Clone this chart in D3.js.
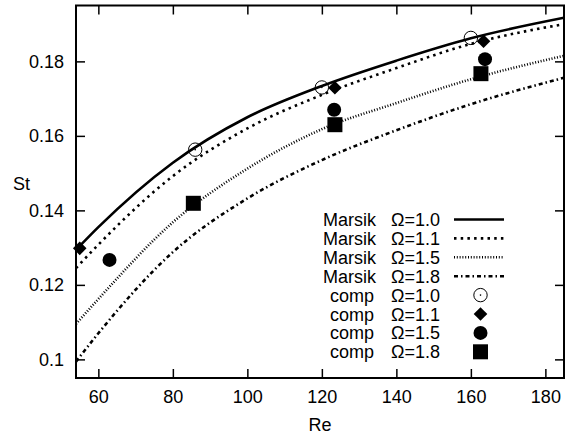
<!DOCTYPE html>
<html>
<head>
<meta charset="utf-8">
<script src="https://cdn.jsdelivr.net/npm/d3@7"></script>
<style>
  body { margin: 0; background: #fff; }
  svg { display: block; font-family: "Liberation Sans", Arial, sans-serif; }
  .axis path { display: none; }
  .axis line { stroke: #000; stroke-width: 1.5; }
  .axis text { font-size: 18px; fill: #000; }
</style>
</head>
<body>
<div id="chart"></div>
<script>
// Marsik curves at a few Re values
const reMarsik = [54, 60, 80, 100, 120, 140, 160, 185];
const stMarsik10 = [0.1294, 0.1355, 0.1528, 0.1650, 0.1734, 0.1802, 0.1862, 0.1917];
const stMarsik11 = [0.1245, 0.1308, 0.1492, 0.1620, 0.1710, 0.1782, 0.1847, 0.1900];
const stMarsik15 = [0.1095, 0.1162, 0.1368, 0.1512, 0.1618, 0.1688, 0.1752, 0.1815];
const stMarsik18 = [0.0994, 0.1070, 0.1288, 0.1432, 0.1535, 0.1615, 0.1685, 0.1756];

// computed points
const compRe10 = [86, 120, 160];
const compSt10 = [0.1563, 0.1730, 0.1863];
const compRe11 = [55, 123.5, 163.4];
const compSt11 = [0.1298, 0.1729, 0.1854];
const compRe15 = [63, 123.3, 163.8];
const compSt15 = [0.1267, 0.1670, 0.1806];
const compRe18 = [85.5, 123.5, 162.7];
const compSt18 = [0.1419, 0.1630, 0.1767];

const xTicks = [60, 80, 100, 120, 140, 160, 180];
const yTicks = [0.1, 0.12, 0.14, 0.16, 0.18];
const yTickLabels = ["0.1", "0.12", "0.14", "0.16", "0.18"];

const lineLabels = ["Marsik", "Marsik", "Marsik", "Marsik"];
const pointLabels = ["comp", "comp", "comp", "comp"];
const omegaLabels = ["\u03A9=1.0", "\u03A9=1.1", "\u03A9=1.5", "\u03A9=1.8"];

var width = 572, height = 436;
var margin = { top: 5.5, right: 8, bottom: 58, left: 76 };

var svg = d3.select('#chart').append('svg')
    .attr('width', width)
    .attr('height', height);

var xScale = d3.scaleLinear().domain([54, 185]).range([margin.left, width - margin.right]);
var yScale = d3.scaleLinear().domain([0.095, 0.195]).range([height - margin.bottom, margin.top]);

var x0 = xScale.range()[0], x1 = xScale.range()[1];
var y0 = yScale.range()[0], y1 = yScale.range()[1];

// axes, ticks pointing inward on all sides
svg.append('g').attr('class', 'axis')
    .attr('transform', `translate(0,${y0})`)
    .call(d3.axisBottom(xScale).tickValues(xTicks).tickSize(-9).tickPadding(12.5));
svg.append('g').attr('class', 'axis')
    .attr('transform', `translate(0,${y1})`)
    .call(d3.axisTop(xScale).tickValues(xTicks).tickSize(-9).tickFormat(''));
svg.append('g').attr('class', 'axis')
    .attr('transform', `translate(${x0},0)`)
    .call(d3.axisLeft(yScale).tickValues(yTicks).tickSize(-9).tickPadding(12)
        .tickFormat((d, i) => yTickLabels[i]));
svg.append('g').attr('class', 'axis')
    .attr('transform', `translate(${x1},0)`)
    .call(d3.axisRight(yScale).tickValues(yTicks).tickSize(-9).tickFormat(''));

// axis titles
svg.append('text')
    .attr('x', (x0 + x1) / 2)
    .attr('y', 431)
    .attr('text-anchor', 'middle')
    .style('font-size', '18px')
    .text('Re');
svg.append('text')
    .attr('x', 13)
    .attr('y', 190)
    .style('font-size', '18px')
    .text('St');

svg.append('clipPath').attr('id', 'plotclip')
    .append('rect')
    .attr('x', x0).attr('y', y1)
    .attr('width', x1 - x0).attr('height', y0 - y1);

var line = d3.line()
    .x(d => xScale(d[0]))
    .y(d => yScale(d[1]))
    .curve(d3.curveMonotoneX);

var lineStyles = [
    { dash: null, w: 2.6 },
    { dash: '2.5,4.2', w: 2.6 },
    { dash: '1,1.8', w: 2.6 },
    { dash: '4,3,1.5,3', w: 2.6 }
];
var marsik = [stMarsik10, stMarsik11, stMarsik15, stMarsik18];

var plot = svg.append('g').attr('clip-path', 'url(#plotclip)');

marsik.forEach(function (st, i) {
    plot.append('path')
        .datum(reMarsik.map((re, j) => [re, st[j]]))
        .attr('d', line)
        .attr('fill', 'none')
        .attr('stroke', '#000')
        .attr('stroke-width', lineStyles[i].w)
        .attr('stroke-dasharray', lineStyles[i].dash);
});

// markers
function drawMarker(g, type, cx, cy) {
    if (type === 0) {
        g.append('circle').attr('cx', cx).attr('cy', cy).attr('r', 6.7)
            .attr('fill', 'none').attr('stroke', '#000').attr('stroke-width', 1);
        g.append('circle').attr('cx', cx).attr('cy', cy).attr('r', 0.8).attr('fill', '#000');
    } else if (type === 1) {
        var s = 6.8;
        g.append('path')
            .attr('d', `M${cx},${cy - s}L${cx + s},${cy}L${cx},${cy + s}L${cx - s},${cy}Z`)
            .attr('fill', '#000');
    } else if (type === 2) {
        g.append('circle').attr('cx', cx).attr('cy', cy).attr('r', 7).attr('fill', '#000');
    } else {
        g.append('rect').attr('x', cx - 7.5).attr('y', cy - 7.5)
            .attr('width', 15).attr('height', 15).attr('fill', '#000');
    }
}

var compRe = [compRe10, compRe11, compRe15, compRe18];
var compSt = [compSt10, compSt11, compSt15, compSt18];
var pts = svg.append('g');
compRe.forEach(function (res, i) {
    res.forEach(function (re, j) {
        drawMarker(pts, i, xScale(re), yScale(compSt[i][j]));
    });
});

// frame
svg.append('rect')
    .attr('x', x0).attr('y', y1)
    .attr('width', x1 - x0).attr('height', y0 - y1)
    .attr('fill', 'none')
    .attr('stroke', '#000')
    .attr('stroke-width', 2);

// legend
var legend = svg.append('g').style('font-size', '18px');
var rowY = i => 219.5 + i * 18.9;
var nameX = 376, omegaX = 391, sampleX0 = 454, sampleX1 = 504, markX = 480.5;

lineLabels.forEach(function (lab, i) {
    legend.append('text').attr('x', nameX).attr('y', rowY(i) + 6.5)
        .attr('text-anchor', 'end').text(lab);
    legend.append('text').attr('x', omegaX).attr('y', rowY(i) + 6.5).text(omegaLabels[i]);
    legend.append('line')
        .attr('x1', sampleX0).attr('x2', sampleX1)
        .attr('y1', rowY(i)).attr('y2', rowY(i))
        .attr('stroke', '#000')
        .attr('stroke-width', lineStyles[i].w)
        .attr('stroke-dasharray', lineStyles[i].dash);
});
pointLabels.forEach(function (lab, i) {
    var y = rowY(i + 4);
    legend.append('text').attr('x', nameX - 2).attr('y', y + 6.5)
        .attr('text-anchor', 'end').text(lab);
    legend.append('text').attr('x', omegaX).attr('y', y + 6.5).text(omegaLabels[i]);
    drawMarker(legend, i, markX, y);
});
</script>
</body>
</html>
